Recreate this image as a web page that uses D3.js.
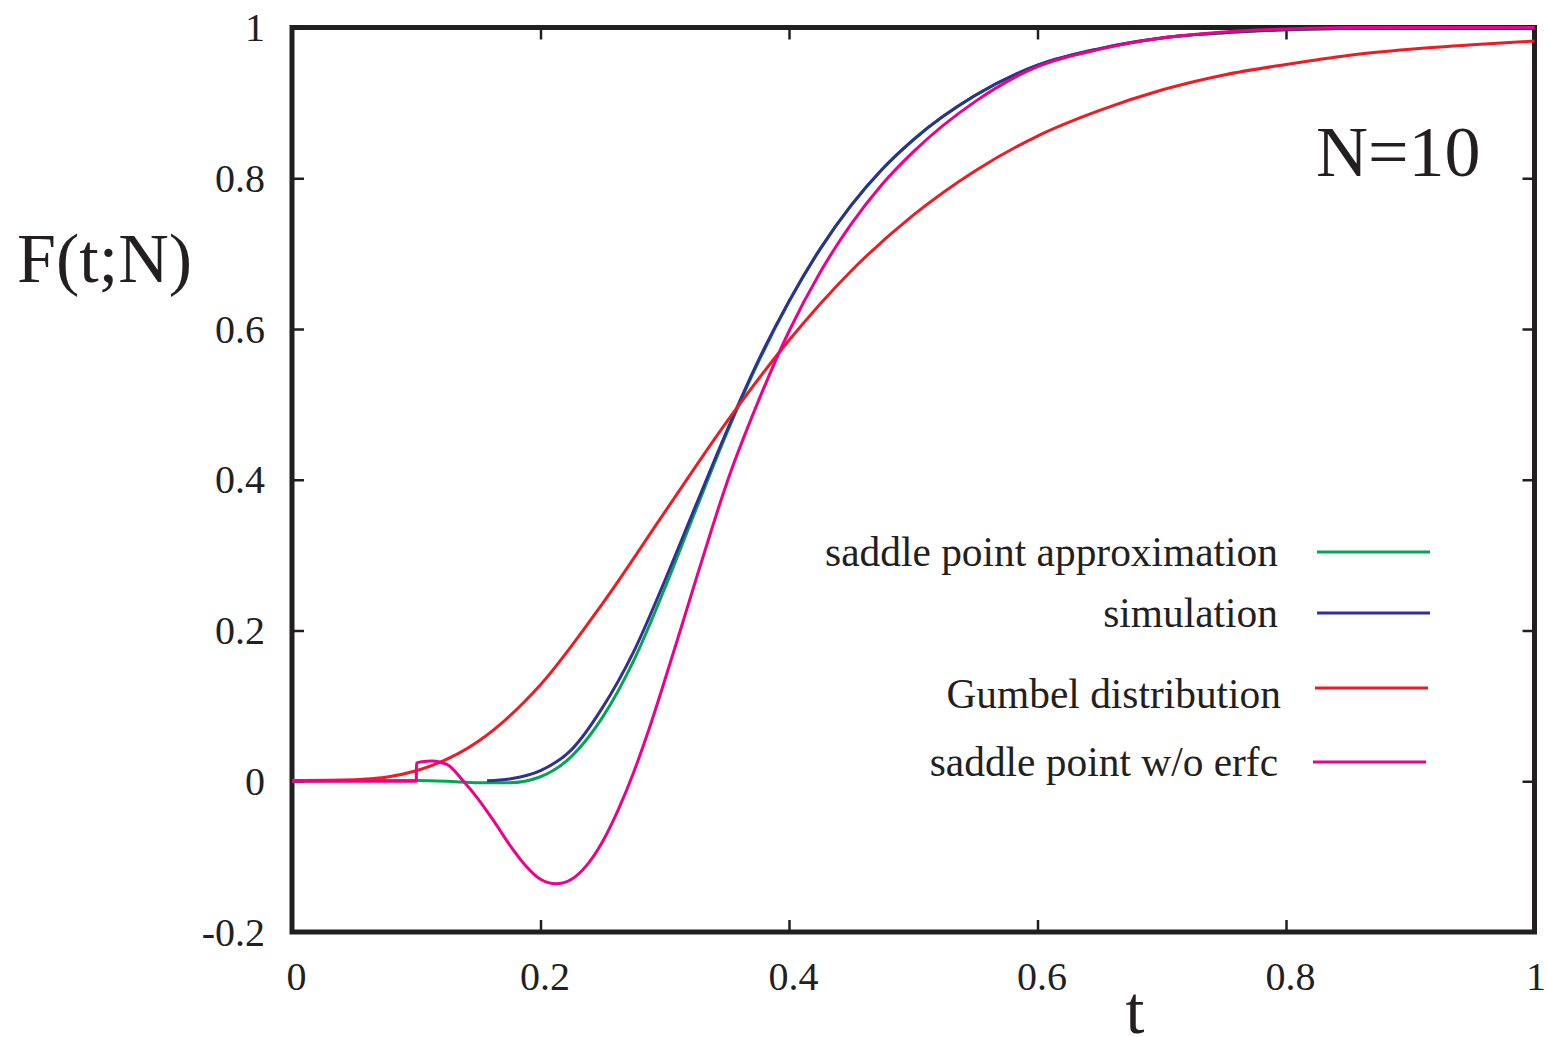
<!DOCTYPE html>
<html>
<head>
<meta charset="utf-8">
<script src="https://cdn.jsdelivr.net/npm/d3@7"></script>
<style>
  body { margin: 0; background: #fff; }
  svg { display: block; font-family: "Liberation Serif", "Times New Roman", serif; }
</style>
</head>
<body>
<svg id="chart"></svg>
<script>
var width = 1547
var height = 1037

// tick values
var xTicks = [0, 0.2, 0.4, 0.6, 0.8, 1]
var yTicks = [-0.2, 0, 0.2, 0.4, 0.6, 0.8, 1]

// saddle point approximation (green)
var saddleT = [0, 0.05, 0.1, 0.125, 0.15, 0.175, 0.2, 0.225, 0.25, 0.275, 0.3, 0.325, 0.35, 0.375, 0.4, 0.425, 0.45, 0.475, 0.5, 0.55, 0.6, 0.65, 0.7, 0.75, 0.8, 0.85, 0.9, 1]
var saddleF = [0, 0.001, 0.001, 0, -0.002, -0.002, 0.006, 0.033, 0.085, 0.16, 0.256, 0.36, 0.462, 0.555, 0.636, 0.706, 0.764, 0.812, 0.851, 0.91, 0.95, 0.972, 0.986, 0.993, 0.997, 0.999, 1, 1]

// simulation (blue)
var simT = [0.157, 0.175, 0.2, 0.225, 0.25, 0.275, 0.3, 0.325, 0.35, 0.375, 0.4, 0.425, 0.45, 0.475, 0.5, 0.55, 0.6, 0.65, 0.7, 0.75, 0.8, 0.85, 0.9, 1]
var simF = [0.0005, 0.003, 0.014, 0.042, 0.098, 0.172, 0.266, 0.366, 0.465, 0.557, 0.637, 0.706, 0.764, 0.812, 0.851, 0.91, 0.95, 0.972, 0.986, 0.993, 0.997, 0.999, 1, 1]

// Gumbel distribution (red)
var gumbelT = [0, 0.05, 0.1, 0.15, 0.2, 0.25, 0.3, 0.35, 0.4, 0.45, 0.5, 0.55, 0.6, 0.65, 0.7, 0.75, 0.8, 0.85, 0.9, 0.95, 1]
var gumbelF = [0.001, 0.002, 0.014, 0.053, 0.128, 0.236, 0.357, 0.477, 0.585, 0.677, 0.751, 0.81, 0.856, 0.89, 0.917, 0.937, 0.951, 0.963, 0.971, 0.977, 0.982]

// saddle point w/o erfc (magenta)
var noErfcT = [0, 0.05, 0.1, 0.1002, 0.105, 0.1125, 0.125, 0.1375, 0.15, 0.1625, 0.175, 0.1875, 0.2, 0.2125, 0.225, 0.2375, 0.25, 0.2625, 0.275, 0.2875, 0.3, 0.3125, 0.325, 0.3375, 0.35, 0.375, 0.4, 0.425, 0.45, 0.475, 0.5, 0.55, 0.6, 0.65, 0.7, 0.75, 0.8, 0.85, 1]
var noErfcF = [0, 0, 0, 0.024, 0.026, 0.027, 0.022, 0.001, -0.024, -0.053, -0.084, -0.111, -0.13, -0.136, -0.13, -0.111, -0.08, -0.038, 0.012, 0.07, 0.134, 0.2, 0.267, 0.333, 0.396, 0.503, 0.597, 0.675, 0.739, 0.792, 0.835, 0.902, 0.948, 0.971, 0.986, 0.994, 0.998, 1, 1]

var labels = ["saddle point approximation", "simulation", "Gumbel distribution", "saddle point w/o erfc"]
var colors = ["#00a651", "#2e3192", "#ed1c24", "#ec008c"]

const svg = d3.select("#chart")
	.attr("width", width)
	.attr("height", height)

const x = d3.scaleLinear().domain([0, 1]).range([292, 1534.5])
const y = d3.scaleLinear().domain([-0.2, 1]).range([932, 27.5])

const fmt = d => String(+d.toFixed(1))

// frame
svg.append("rect")
	.attr("x", x(0)).attr("y", y(1))
	.attr("width", x(1) - x(0)).attr("height", y(-0.2) - y(1))
	.attr("fill", "none")
	.attr("stroke", "#231f20")
	.attr("stroke-width", 5)

function styleAxis(g) {
	g.select(".domain").remove()
	g.attr("font-family", null)
	g.selectAll(".tick line").attr("stroke", "#231f20").attr("stroke-width", 2.5)
	g.selectAll(".tick text").attr("fill", "#231f20").style("font-size", "40px")
}

svg.append("g")
	.attr("transform", `translate(0,${y(-0.2)})`)
	.call(d3.axisBottom(x).tickValues(xTicks).tickFormat(fmt).tickSizeInner(-12).tickSizeOuter(0).tickPadding(30))
	.call(styleAxis)
	.call(g => g.selectAll(".tick text").attr("dx", d => d == 1 ? 1 : 4))

svg.append("g")
	.attr("transform", `translate(0,${y(1)})`)
	.call(d3.axisTop(x).tickValues(xTicks).tickFormat("").tickSizeInner(-12).tickSizeOuter(0))
	.call(styleAxis)

svg.append("g")
	.attr("transform", `translate(${x(0)},0)`)
	.call(d3.axisLeft(y).tickValues(yTicks).tickFormat(fmt).tickSizeInner(-12).tickSizeOuter(0).tickPadding(27))
	.call(styleAxis)
	.call(g => g.selectAll(".tick text").attr("dy", "0.33em"))

svg.append("g")
	.attr("transform", `translate(${x(1)},0)`)
	.call(d3.axisRight(y).tickValues(yTicks).tickFormat("").tickSizeInner(-12).tickSizeOuter(0))
	.call(styleAxis)

// curves
const line = d3.line()
	.x(d => x(d[0]))
	.y(d => y(d[1]))
	.curve(d3.curveMonotoneX)

const series = [
	{ t: saddleT, f: saddleF, color: colors[0] },
	{ t: simT, f: simF, color: colors[1] },
	{ t: gumbelT, f: gumbelF, color: colors[2] },
	{ t: noErfcT, f: noErfcF, color: colors[3] }
]

svg.append("g")
	.selectAll("path")
	.data(series)
	.join("path")
	.attr("d", s => line(s.t.map((t, i) => [t, s.f[i]])))
	.attr("fill", "none")
	.attr("stroke", s => s.color)
	.attr("stroke-width", 3)
	.attr("stroke-linejoin", "round")

// legend
var legendY = [552, 613, 688, 762]
var legendTextX = [1278, 1278, 1281, 1278]
var legendLineX = [1317, 1317, 1315, 1313]

const legend = svg.append("g")
	.selectAll("g")
	.data(labels)
	.join("g")

legend.append("text")
	.attr("x", (d, i) => legendTextX[i])
	.attr("y", (d, i) => legendY[i] + (i == 2 ? 6 : 0))
	.attr("dy", "0.33em")
	.attr("text-anchor", "end")
	.attr("fill", "#231f20")
	.style("font-size", "41.4px")
	.text(d => d)

legend.append("line")
	.attr("x1", (d, i) => legendLineX[i])
	.attr("x2", (d, i) => legendLineX[i] + 113)
	.attr("y1", (d, i) => legendY[i])
	.attr("y2", (d, i) => legendY[i])
	.attr("stroke", (d, i) => colors[i])
	.attr("stroke-width", 3)

// annotations
svg.append("text")
	.attr("x", 1316).attr("y", 176)
	.attr("fill", "#231f20")
	.style("font-size", "72px")
	.text("N=10")

svg.append("text")
	.attr("x", 17).attr("y", 282)
	.attr("fill", "#231f20")
	.style("font-size", "70px")
	.text("F(t;N)")

svg.append("text")
	.attr("x", 1135).attr("y", 1033)
	.attr("text-anchor", "middle")
	.attr("fill", "#231f20")
	.style("font-size", "68px")
	.text("t")
</script>
</body>
</html>
